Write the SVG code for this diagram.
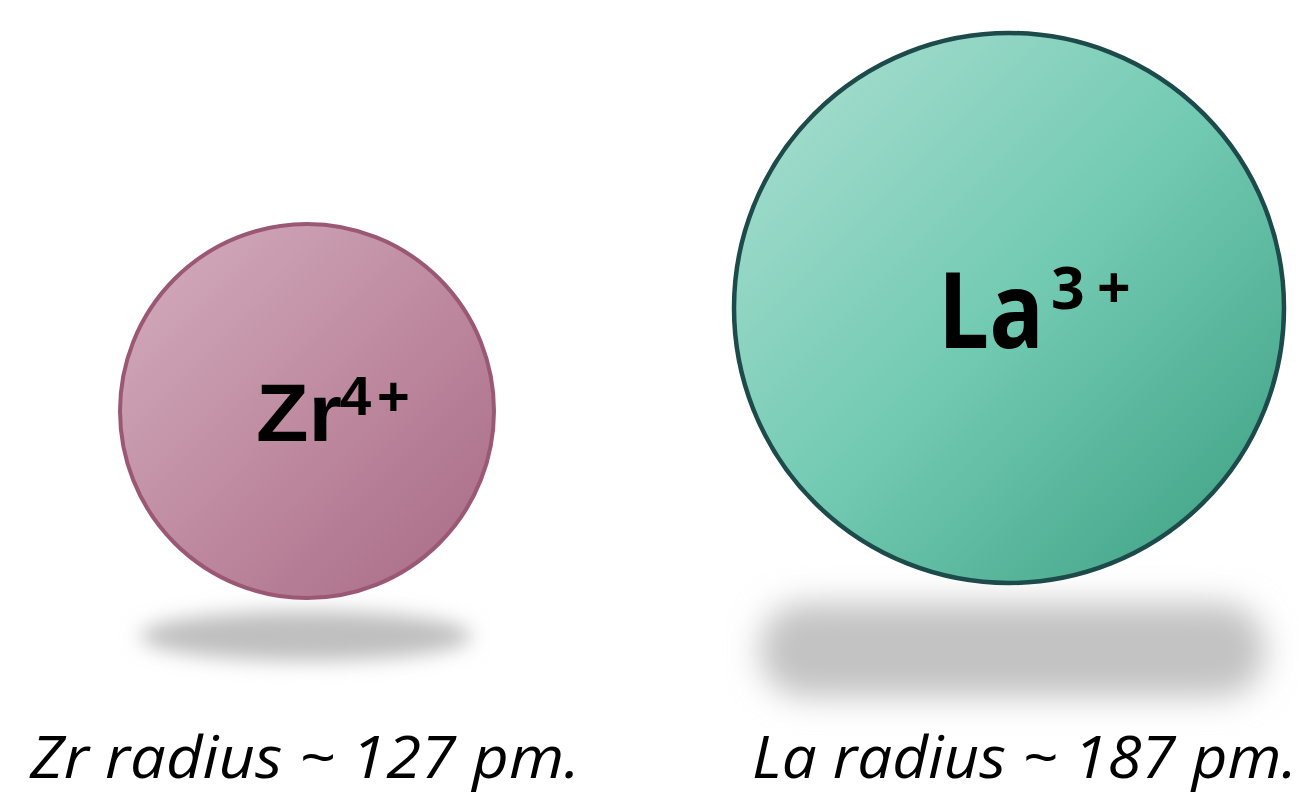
<svg xmlns="http://www.w3.org/2000/svg" width="1299" height="794" viewBox="0 0 1299 794">
<defs>
<linearGradient id="gZr" x1="0" y1="0" x2="1" y2="1">
<stop offset="0" stop-color="#d4afbf"/>
<stop offset="0.5" stop-color="#bf8ba0"/>
<stop offset="1" stop-color="#a86a86"/>
</linearGradient>
<linearGradient id="gLa" x1="0" y1="0" x2="1" y2="1">
<stop offset="0" stop-color="#aee0d3"/>
<stop offset="0.5" stop-color="#72cab2"/>
<stop offset="1" stop-color="#3a9e80"/>
</linearGradient>
<filter id="blur1" x="-30%" y="-150%" width="160%" height="400%"><feGaussianBlur stdDeviation="10"/></filter>
<filter id="blur2" x="-30%" y="-100%" width="160%" height="300%"><feGaussianBlur stdDeviation="16"/></filter>
<style>
.lab{font-family:"Open Sans","Noto Sans",sans-serif;font-style:italic;font-size:59px;fill:#000}
.zr{font-family:"Liberation Sans",Arial,sans-serif;font-weight:bold;fill:#000}
.la{font-family:"Open Sans","Noto Sans",sans-serif;font-weight:bold;fill:#000}
</style>
</defs>
<rect width="1299" height="794" fill="#fff"/>
<g id="zr">
<ellipse cx="306" cy="636" rx="166" ry="25" fill="#bfbfbf" filter="url(#blur1)"/>
<circle cx="307" cy="411" r="187" fill="url(#gZr)" stroke="#9a5874" stroke-width="4"/>
<text class="zr" font-size="82" x="256" y="441" textLength="86" lengthAdjust="spacingAndGlyphs">Zr</text>
<text class="zr" font-size="56" x="340" y="415">4</text>
<text class="zr" font-size="56" x="377" y="415">+</text>
</g>
<g id="la">
<rect x="760" y="603" width="505" height="94" rx="45" fill="#c3c3c3" filter="url(#blur2)"/>
<circle cx="1009" cy="308" r="275" fill="url(#gLa)" stroke="#1d4a4a" stroke-width="4.5"/>
<text class="la" font-size="105" x="938" y="348" textLength="106" lengthAdjust="spacingAndGlyphs">La</text>
<text class="la" font-size="59" x="1051" y="309">3</text>
<text class="la" font-size="59" x="1097" y="309">+</text>
</g>
<g id="labels">
<text class="lab" x="30" y="778" textLength="550" lengthAdjust="spacingAndGlyphs">Zr radius ~ 127 pm.</text>
<text class="lab" x="752" y="778" textLength="545" lengthAdjust="spacingAndGlyphs">La radius ~ 187 pm.</text>
</g>
<g id="connectors"/>
</svg>
